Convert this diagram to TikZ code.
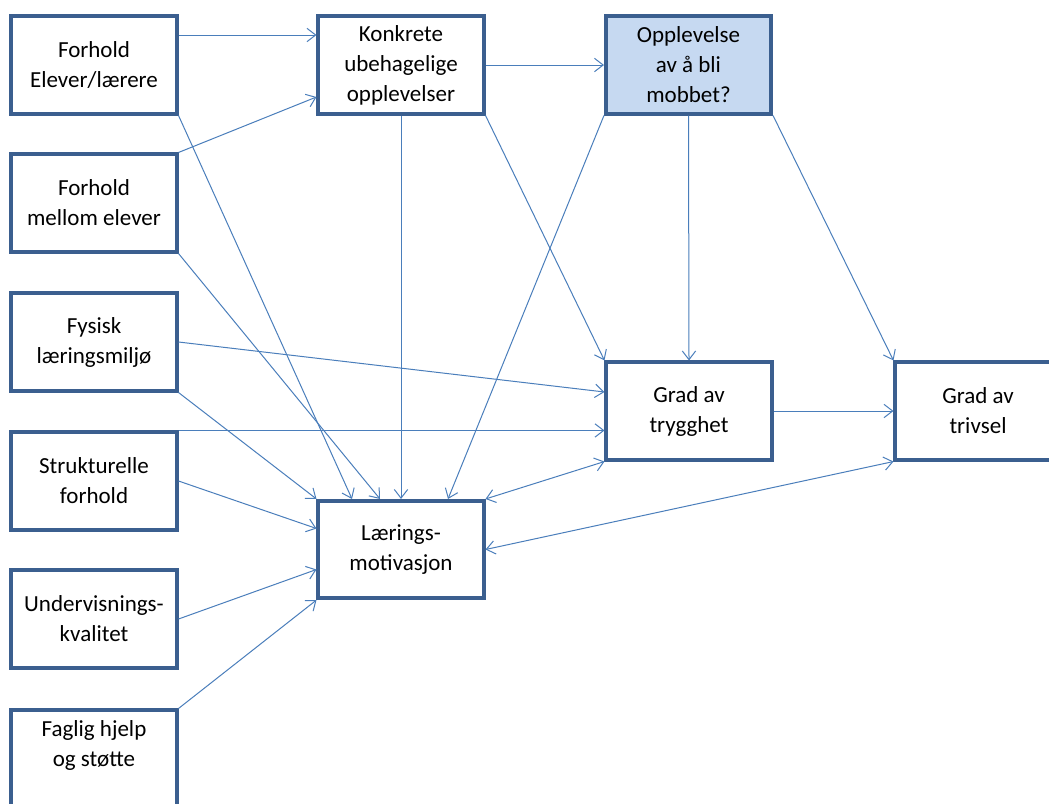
\documentclass[tikz,border=0pt]{standalone}
\usepackage{fontspec}
\setmainfont{Carlito}
\usetikzlibrary{arrows.meta,calc}
\definecolor{bordercol}{HTML}{3B5F8F}
\definecolor{fillblue}{HTML}{C6D9F1}
\definecolor{arrowcol}{HTML}{4A7EBB}
\tikzset{
  box/.style={draw=bordercol, line width=2.8pt, fill=white, minimum width=124pt,
    minimum height=73pt, align=center, inner sep=0pt,
    font=\fontsize{17.25}{22.5}\selectfont},
  conn/.style={draw=arrowcol, line width=0.75pt, -{Straight Barb[length=6.5pt,width=10pt]}},
  biconn/.style={draw=arrowcol, line width=0.75pt, {Straight Barb[length=6.5pt,width=10pt]}-{Straight Barb[length=6.5pt,width=10pt]}},
  lbl/.style={align=center, inner sep=0pt, font=\fontsize{17.25}{22.5}\selectfont}
}
\begin{document}
\begin{tikzpicture}[x=0.75pt,y=-0.75pt]
\useasboundingbox (0,0) rectangle (1049,803);
\clip (0,0) rectangle (1049,803);
\fill[white] (0,0) rectangle (1049,803);
% left column
\node[box] (b1) at (94,65) {Forhold\\Elever/lærere};
\node[box] (b2) at (94,203) {Forhold\\mellom elever};
\node[box] (b3) at (94,342) {Fysisk\\læringsmiljø};
\node[box] (b4) at (94,481) {Strukturelle\\forhold};
\node[box] (b5) at (94,619) {Undervisnings-\\kvalitet};
\node[box] (b6) at (94,759) {};
\node[lbl] (t6) at (94,745) {Faglig hjelp\\og støtte};
% other boxes
\node[box] (k) at (401,65) {Konkrete\\ubehagelige\\opplevelser};
\node[box, fill=fillblue] (o) at (688.5,65) {Opplevelse\\av å bli\\mobbet?};
\node[box] (T) at (689,411) {Grad av\\trygghet};
\node[box] (V) at (978,411) {Grad av\\trivsel};
\node[box] (L) at (401,549.5) {Lærings-\\motivasjon};
% connectors
\draw[conn] ($(b1.east)+(0,-30)$) -- ($(k.west)+(0,-30)$);
\draw[conn] (b2.north east) -- ($(k.west)+(0,32)$);
\draw[conn] (k.east) -- (o.west);
\draw[conn] (b1.south east) -- ($(L.north)+(-49,0)$);
\draw[conn] (b2.south east) -- ($(L.north)+(-21,0)$);
\draw[conn] (k.south) -- (L.north);
\draw[conn] (o.south west) -- ($(L.north)+(47,0)$);
\draw[conn] (b3.south east) -- (L.north west);
\draw[conn] (b4.east) -- ($(L.west)+(0,-21)$);
\draw[conn] (b5.east) -- ($(L.west)+(0,20)$);
\draw[conn] (b6.north east) -- (L.south west);
\draw[conn] (b3.east) -- ($(T.west)+(0,-19)$);
\draw[conn] (b4.north east) -- (T.west |- b4.north east);
\draw[conn] (k.south east) -- (T.north west);
\draw[conn] (o.south) -- (T.north);
\draw[conn] (o.south east) -- (V.north west);
\draw[conn] (T.east) -- (V.west);
\draw[biconn] (L.north east) -- (T.south west);
\draw[biconn] (L.east) -- (V.south west);
\end{tikzpicture}
\end{document}
